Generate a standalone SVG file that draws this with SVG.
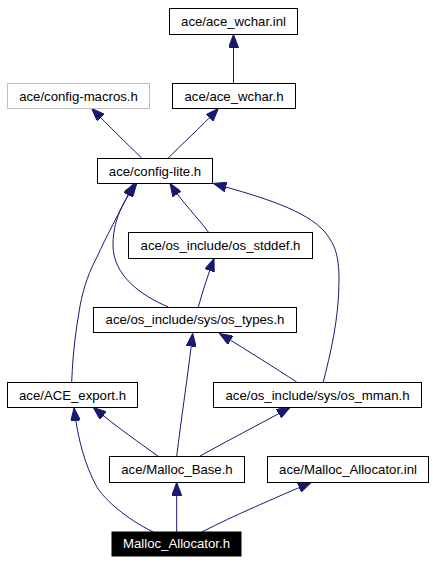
<svg xmlns="http://www.w3.org/2000/svg" width="433" height="563" viewBox="0 0 433 563">
<style>
.n rect{fill:#fff;stroke:#000;stroke-width:1}
.n text{font-family:"Liberation Sans",Arial,sans-serif;font-size:13.2px;text-anchor:middle;fill:#000}
#n_macros rect{stroke:#bfbfbf}
#n_main rect{fill:#000;stroke:#000}
#n_main text{fill:#fff}
#edges path{fill:none;stroke:#191970;stroke-width:1;marker-end:url(#ah)}
</style>
<defs>
<marker id="ah" markerUnits="userSpaceOnUse" markerWidth="13" markerHeight="10" viewBox="0 0 13 10" refX="13" refY="5" orient="auto">
<path d="M0,0 L13,5 L0,10 z" fill="#191970" stroke="#191970" stroke-width="1"/>
</marker>
</defs>
<rect width="433" height="563" fill="#fff"/>
<g id="edges">
<path d="M233.5,83 L233.5,34.5"/>
<path d="M141.7,158 C125,142 110,127 91.7,108.5"/>
<path d="M168.3,158 C180,146 200,128 218.3,108.5"/>
<path d="M208.3,232 C198,218 182,202 170,183.5"/>
<path d="M168.3,307 C140,295 113,275 113,245 C113,215 128,195 136.7,183.5"/>
<path d="M198.3,307 C203,290 208,275 214,258.5"/>
<path d="M71.7,382 C73,350 76,330 80,306 C84,285 90,270 97,257 C106,237 118,215 134,183.5"/>
<path d="M323.3,382 C330,355 339,320 339,280 C339,255 335,245 325,232 C305,210 265,198 213.5,183.5"/>
<path d="M296.7,382 C275,368 250,352 219.5,333.5"/>
<path d="M158.3,456.5 C140,443 118,428 93.3,407.5"/>
<path d="M176.7,456.5 C181,420 188,375 192.7,333.5"/>
<path d="M199.3,456.5 C225,442 258,425 290,407.5"/>
<path d="M153.3,532 C125,518 105,500 96.7,486.7 C85,465 78,440 74,408"/>
<path d="M176.7,532 L176.7,482.5"/>
<path d="M201.7,532 C235,515 275,498 311,482.5"/>
</g>
<g id="n_wchar_inl" class="n"><rect x="169.5" y="8.5" width="128" height="26"/><text x="233.5" y="26">ace/ace_wchar.inl</text></g>
<g id="n_macros" class="n"><rect x="7.5" y="83.5" width="142" height="25"/><text x="78.5" y="100.5">ace/config-macros.h</text></g>
<g id="n_wchar_h" class="n"><rect x="172.5" y="83.5" width="123" height="25"/><text x="234" y="100.5">ace/ace_wchar.h</text></g>
<g id="n_config_lite" class="n"><rect x="97.5" y="158.5" width="115" height="25"/><text x="155" y="175.5">ace/config-lite.h</text></g>
<g id="n_os_stddef" class="n"><rect x="128.5" y="232.5" width="184" height="26"/><text x="220.5" y="250">ace/os_include/os_stddef.h</text></g>
<g id="n_os_types" class="n"><rect x="93.5" y="307.5" width="203" height="25"/><text x="195" y="324">ace/os_include/sys/os_types.h</text></g>
<g id="n_ace_export" class="n"><rect x="7.5" y="382.5" width="130" height="25"/><text x="72.5" y="399.5">ace/ACE_export.h</text></g>
<g id="n_os_mman" class="n"><rect x="213.5" y="382.5" width="208" height="25"/><text x="317.5" y="399.5">ace/os_include/sys/os_mman.h</text></g>
<g id="n_malloc_base" class="n"><rect x="109.5" y="456.5" width="135" height="26"/><text x="177" y="474">ace/Malloc_Base.h</text></g>
<g id="n_alloc_inl" class="n"><rect x="267.5" y="456.5" width="161" height="26"/><text x="348" y="474">ace/Malloc_Allocator.inl</text></g>
<g id="n_main" class="n"><rect x="112" y="532" width="129" height="24"/><text x="176.5" y="548">Malloc_Allocator.h</text></g>
</svg>
